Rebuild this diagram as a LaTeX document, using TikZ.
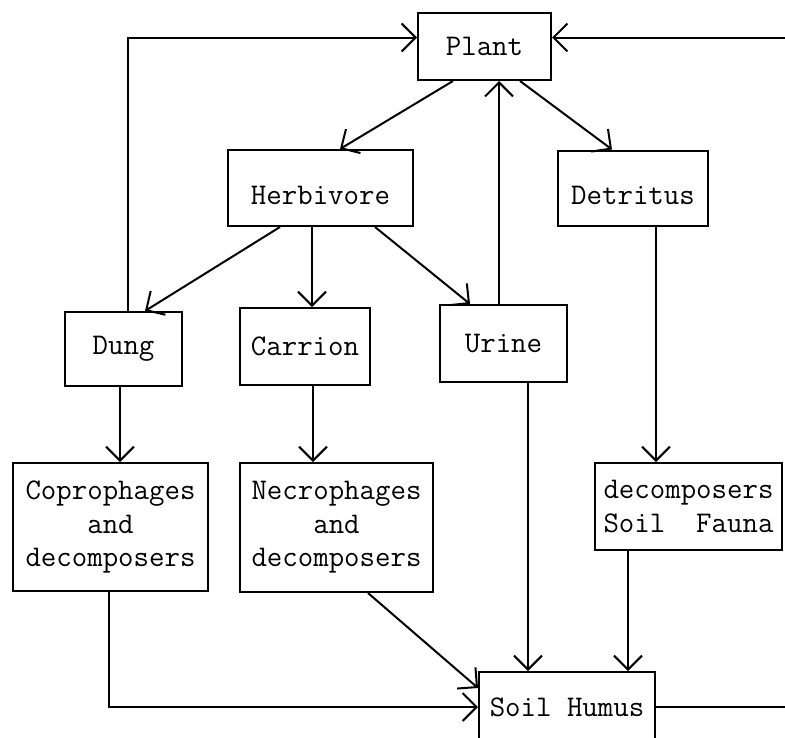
\documentclass[tikz,border=0pt]{standalone}
\usepackage{fontspec}
\usetikzlibrary{arrows.meta}
\begin{document}
\begin{tikzpicture}[x=1pt,y=1pt]
\tikzstyle{every node}+=[inner sep=0pt]
\tikzstyle{boxnode}=[draw=black,line width=2pt,font=\ttfamily\fontsize{30}{33.5}\selectfont,align=center]
\tikzstyle{lowtext}=[text height=32pt,text depth=0pt]
\tikzstyle{flow}=[draw=black,line width=2pt,-{Straight Barb[length=14pt,width=28pt]}]
\useasboundingbox (0,0) rectangle (785,-737);
\clip (0,0) rectangle (785,-737);
\node [boxnode,minimum width=133,minimum height=67] (plant) at (484.5,-46.5) {Plant};
\node [boxnode,lowtext,minimum width=185,minimum height=76] (herb) at (320.5,-188) {Herbivore};
\node [boxnode,lowtext,minimum width=150,minimum height=75] (detr) at (633,-188) {Detritus};
\node [boxnode,minimum width=117,minimum height=74] (dung) at (123.5,-349) {Dung};
\node [boxnode,minimum width=130,minimum height=77] (carr) at (305,-346.5) {Carrion};
\node [boxnode,minimum width=127,minimum height=77] (urine) at (503.5,-343.5) {Urine};
\node [boxnode,minimum width=195,minimum height=128] (copro) at (110.5,-527) {Coprophages\\and\\decomposers};
\node [boxnode,minimum width=193,minimum height=129] (necro) at (336.5,-527.5) {Necrophages\\and\\decomposers};
\node [boxnode,minimum width=187,minimum height=87] (fauna) at (688.5,-506.5) {decomposers\\Soil\ \ Fauna};
\node [boxnode,minimum width=176,minimum height=70] (humus) at (567,-707) {Soil Humus};
\draw [flow] ([xshift=-31.5]plant.south) -- ([xshift=19.5]herb.north);
\draw [flow] ([xshift=35.5]plant.south) -- ([xshift=-21]detr.north);
\draw [flow] ([xshift=-4.5]urine.north) -- ([xshift=14.5]plant.south);
\draw [flow] ([xshift=-40.5]herb.south) -- ([xshift=21.5]dung.north);
\draw [flow] ([xshift=-8.5]herb.south) -- ([xshift=7]carr.north);
\draw [flow] ([xshift=54.5]herb.south) -- ([xshift=-33.5]urine.north);
\draw [flow] ([xshift=4.5]dung.north) |- ([yshift=9]plant.west);
\draw [flow] (humus.east) -- ++(150,0) |- ([yshift=9]plant.east);
\draw [flow] ([xshift=-3.5]dung.south) -- ([xshift=9.5]copro.north);
\draw [flow] ([xshift=8]carr.south) -- ([xshift=-23.5]necro.north);
\draw [flow] ([xshift=23]detr.south) -- ([xshift=-32.5]fauna.north);
\draw [flow] ([xshift=24.5]urine.south) -- ([xshift=-39]humus.north);
\draw [flow] ([xshift=-60.5]fauna.south) -- ([xshift=61]humus.north);
\draw [flow] ([xshift=31.5]necro.south) -- ([yshift=19]humus.west);
\draw [flow] ([xshift=-1.5]copro.south) |- (humus.west);
\end{tikzpicture}
\end{document}
